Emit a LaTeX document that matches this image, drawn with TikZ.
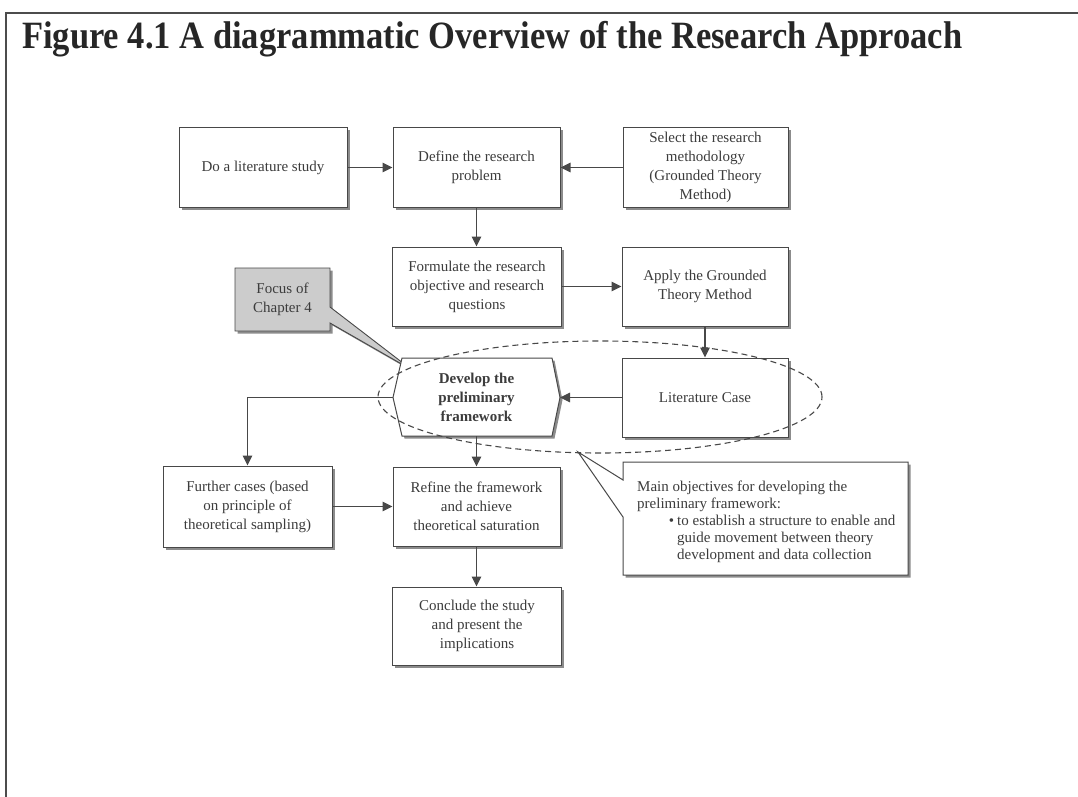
\documentclass[tikz,border=0pt]{standalone}
\usepackage{fontspec}
\setmainfont{Liberation Serif}
\usetikzlibrary{arrows.meta,shadows}
\definecolor{ink}{HTML}{3C3C3C}
\definecolor{edge}{HTML}{484848}
\begin{document}
\begin{tikzpicture}[x=1pt,y=-1pt,
  shade box/.style={drop shadow={shadow xshift=2.5pt, shadow yshift=-2.5pt, fill=black!45, opacity=1}},
  box/.style={draw=edge, line width=1pt, fill=white, align=center, text=ink,
    font=\fontsize{15}{19}\selectfont, inner sep=0pt, shade box},
  link/.style={draw=edge, line width=1.1pt, -{Triangle[length=10pt,width=9.5pt]}},
  outline/.style={draw=edge, line width=1pt, fill=white, shade box},
  label/.style={text=ink, align=center, inner sep=0pt, font=\fontsize{15}{19}\selectfont},
  group/.style={draw=edge, line width=1.1pt, dash pattern=on 6pt off 4pt},
]
\useasboundingbox (0,0) rectangle (1078,797);

% frame and heading
\draw[line width=1.6pt, black!70] (1078,13) -- (6,13) -- (6,797);
\node[anchor=base west, inner sep=0pt, text=black!85,
  font=\fontsize{34.5}{40}\selectfont\bfseries] (title) at (22,48.5)
  {\scalebox{1}[1.12]{Figure 4.1 A diagrammatic Overview of the Research Approach}};

% first row
\node[box, minimum width=168pt, minimum height=79pt] (lit) at (263,167.5) {Do a literature study};
\node[box, minimum width=167pt, minimum height=79pt] (def) at (476.5,167.5) {Define the research\\problem};
\node[box, minimum width=165pt, minimum height=79pt] (sel) at (705.5,167.5) {Select the research\\methodology\\(Grounded Theory\\Method)};

% second row
\node[box, minimum width=169pt, minimum height=79pt] (form) at (477,286.5) {Formulate the research\\objective and research\\questions};
\node[box, minimum width=166pt, minimum height=79pt] (apply) at (705,286.5) {Apply the Grounded\\Theory Method};

% focus callout
\path[draw=edge, line width=0.9pt, fill=black!20, shade box]
  (235,268) -- (330,268) -- (330,307) -- (412,370) -- (330,323) -- (330,331) -- (235,331) -- cycle;
\node[label] (focus) at (282.5,299.5) {Focus of\\Chapter 4};

% third row
\node[box, minimum width=166pt, minimum height=79pt] (litcase) at (705,397.5) {Literature Case};
\coordinate (devL) at (393,397.5);
\coordinate (devR) at (560,397.5);
\path[outline] (402,358) -- (552,358) -- (devR) -- (552,436) -- (402,436) -- (devL) -- cycle;
\node[label, font=\fontsize{15}{19}\selectfont\bfseries, minimum width=150pt, minimum height=78pt] (dev) at (476.5,397) {Develop the\\preliminary\\framework};

% fourth and fifth rows
\node[box, minimum width=169pt, minimum height=81pt] (further) at (247.5,506.5) {Further cases (based\\on principle of\\theoretical sampling)};
\node[box, minimum width=167pt, minimum height=79pt] (refine) at (476.5,506.5) {Refine the framework\\and achieve\\theoretical saturation};
\node[box, minimum width=169pt, minimum height=78pt] (concl) at (477,626) {Conclude the study\\and present the\\implications};

% objectives callout
\coordinate (objtip) at (578,452);
\path[outline] (623,462) -- (908,462) -- (908,575) -- (623,575) -- (623,517) -- (objtip) -- (623,480) -- cycle;
\node[anchor=north west, align=left, text=ink, inner sep=0pt, font=\fontsize{15}{17}\selectfont] (objtext) at (637,481)
  {Main objectives for developing the\\
   preliminary framework:\\
   \hspace*{40pt}\llap{\textbullet\hspace{3pt}}to establish a structure to enable and\\
   \hspace*{40pt}guide movement between theory\\
   \hspace*{40pt}development and data collection};

% connectors
\draw[link] (lit.east) -- (def.west);
\draw[link] (sel.west) -- (def.east);
\draw[link] (def.south) -- (def.south |- form.north);
\draw[link] (form.east) -- (apply.west);
\draw[link] (apply.south) -- (litcase.north);
\draw[link] (litcase.west) -- (devR);
\draw[link] (dev.south) -- (dev.south |- refine.north);
\draw[link] (devL) -| (further.north);
\draw[link] (further.east) -- (refine.west);
\draw[link] (refine.south) -- (refine.south |- concl.north);

% grouping of the framework development stage
\draw[group] (600,397) ellipse [x radius=222pt, y radius=56pt];
\end{tikzpicture}
\end{document}
